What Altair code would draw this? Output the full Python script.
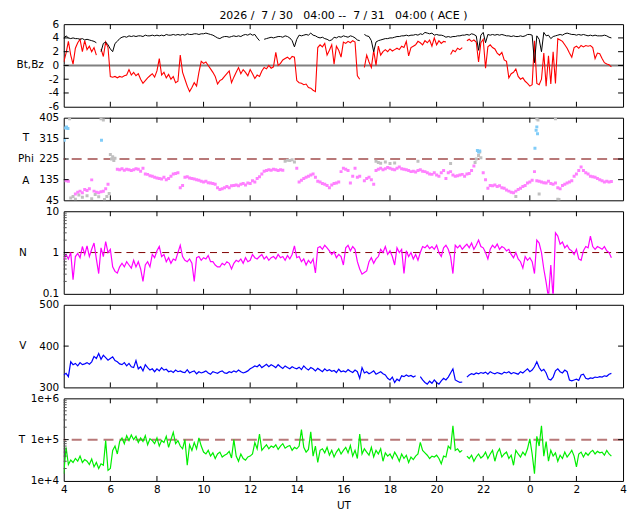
import altair as alt
import pandas as pd

# ---------------- data (0.1 h steps from 04:00) ----------------
N_PTS = 236
hours = [round(4 + 0.1 * i, 1) for i in range(N_PTS)]

bz = [
    0.5, 1.8, 3.5, 1.5, 0.2, 2.5, 3.3, 3.8, 2.0, 3.6,
    2.3, 2.8, 2.0, 2.6, 1.5, None, 2.4, 1.3, 3.4, 2.6,
    -1.6, -1.7, -1.6, -1.8, -1.6, -1.7, -1.5, -1.4, -0.6, -1.4,
    -1.0, -1.5, -1.2, -2.0, -2.6, -2.2, -1.8, -1.5, -1.2, -1.7,
    -0.8, 1.0, -1.4, -1.0, -1.8, -1.3, -2.0, -1.6, -2.5, -2.3,
    1.5, -1.0, -2.0, -3.0, -3.8, -3.2, -2.5, -3.0, -1.0, 0.6,
    0.3, 0.5, 0.0, -0.5, -1.0, -1.6, -2.7, -2.2, -2.0, -1.6,
    -1.2, -0.8, -2.5, -1.7, -1.0, -0.3, -1.2, -0.6, -1.0, -1.5,
    -0.6, -1.2, -1.9, -1.4, -1.6, -0.8, -0.3, -0.5, 0.0, -0.4,
    -0.2, 1.9, 0.0, 0.3, 0.8, 1.0, 1.2, 0.9, 1.3, 1.2,
    -2.2, -2.5, -2.6, -2.8, -2.7, -3.2, -3.3, -3.6, -3.8, 2.6,
    3.0, 2.7, 3.2, 1.5, 2.2, 3.0, 0.2, 2.8, 2.2, 1.2,
    3.4, 3.2, 3.5, 3.3, 3.6, 3.4, -1.5, -2.0, None, -0.3,
    1.5, 0.5, -0.3, 2.2, 0.0, 2.8, 1.5, 2.0, 2.3, 2.0,
    2.4, 2.1, 2.3, 2.5, 2.3, 2.8, 2.6, 3.5, 1.4, 2.6,
    2.8, 3.0, 3.5, 3.3, 3.0, 3.6, 3.3, 3.7, 2.8, 4.0,
    3.0, 3.6, 3.2, 3.5, 3.4, None, 1.6, 2.2, 2.0, 2.5,
    2.3, 2.6, None, 3.6, 3.8, 3.5, 3.7, 3.4, 0.5, 3.3,
    3.8, -0.4, 2.7, 3.0, 2.6, 2.4, 1.8, 1.5, 1.9, 0.8,
    0.6, -1.8, -1.2, -1.0, -0.5, -1.6, -2.0, -1.8, -2.3, -2.6,
    -3.0, -2.8, 3.6, -2.6, -2.8, -2.0, 1.8, -3.0, 1.4, -2.7,
    2.0, -2.6, 3.9, 3.7, 3.5, 3.0, 2.5, 1.8, 1.2, 2.6,
    2.8, 2.5, 2.9, 2.7, 2.9, 2.8, 2.9, 2.6, 1.0, 1.8,
    1.7, 1.0, 0.4, 0.2, 0.1, -0.2,
]

bt = [
    3.9, 4.3, 4.0, 3.9, 4.0, 3.9, 3.9, 3.8, 3.9, 3.7,
    3.8, 3.7, 3.6, 3.5, 3.3, None, 2.0, 3.2, 3.4, 3.0,
    2.4, 2.0, 3.2, 3.5, 3.9, 4.1, 4.2, 4.1, 4.3, 4.2,
    4.3, 4.2, 4.3, 4.3, 4.2, 4.4, 4.3, 4.3, 4.4, 4.3,
    4.4, 4.3, 4.4, 4.3, 4.5, 4.4, 4.4, 4.5, 4.4, 4.5,
    4.4, 4.5, 4.4, 4.6, 4.5, 4.5, 4.6, 4.6, 4.5, 4.6,
    4.6, 4.7, 4.6, 4.5, 4.4, 4.2, 4.0, 3.9, 4.1, 4.2,
    4.2, 4.1, 4.2, 4.3, 4.2, 4.3, 4.2, 4.4, 4.5, 4.4,
    4.6, 4.4, 4.5, 4.0, 3.6, None, 3.8, 3.9, 4.0, 4.1,
    4.0, 4.1, 4.2, 4.2, 4.1, 4.3, 4.2, 4.0, 3.6, 2.7,
    3.8, 4.4, 4.3, 4.4, 4.5, 4.4, 4.7, 4.4, 4.3, 4.1,
    4.0, 4.1, 3.9, 3.8, 3.6, 3.7, 4.1, 4.0, 4.2, 4.1,
    4.3, 4.2, 4.1, 4.3, 4.2, 4.0, 3.7, 3.6, None, 4.5,
    4.3, 4.2, 3.6, 2.0, 3.4, 3.6, 3.7, 3.8, 3.9, 3.9,
    4.0, 4.0, 4.1, 4.2, 4.2, 4.3, 4.3, 4.4, 4.3, 4.4,
    4.4, 4.5, 4.4, 4.6, 4.5, 4.8, 4.7, 4.6, 4.7, 4.4,
    4.5, 4.4, 4.4, 4.3, 4.1, 4.2, 4.1, 4.2, 4.2, 4.3,
    4.3, 4.4, 4.4, 4.5, 4.4, 4.6, 4.5, 4.3, 2.2, 4.4,
    4.8, 3.3, 4.5, 4.4, 4.5, 4.4, 4.5, 4.4, 4.5, 4.4,
    4.3, 4.3, 4.2, 4.3, 4.2, 4.2, 4.3, 4.2, 4.3, 4.5,
    4.5, 4.4, 0.4, 4.3, 3.8, 2.0, 4.8, 4.3, 4.4, 3.9,
    4.2, 4.3, 4.4, 4.5, 4.4, 4.6, 4.7, 4.6, 4.5, 4.5,
    4.4, 4.5, 4.4, 4.5, 4.4, 4.3, 4.4, 4.3, 4.4, 4.3,
    4.3, 4.3, 4.4, 4.3, 4.1, 4.0,
]

phi = [
    None, 130, 128, None, None, 72, 80, 85, 78, 92,
    88, 95, 134, 85, 80, 78, 82, 84, 95, 115,
    None, None, None, 180, 178, 182, 176, 180, 178, 175,
    178, 182, 180, 172, 185, 160, 158, 152, 150, 145,
    142, 140, 138, 145, 135, 140, 150, 160, 162, 165,
    100, 110, 145, 148, 142, 140, 138, 135, 132, 128,
    125, 128, 122, 120, 118, 115, 100, 92, 95, 100,
    105, 100, 108, 110, 112, 108, 115, 118, 112, 120,
    118, 130, 125, 140, 148, 160, 172, 175, 178, 176,
    180, 178, 175, 178, 176, None, None, None, None, None,
    185, 125, 132, 140, 145, 150, 155, 160, 145, 128,
    125, 118, 115, 110, 100, 112, 118, 120, 125, 170,
    185, 180, 175, 120, 150, 185, 145, 150, None, 130,
    140, 145, 135, 115, 175, 180, 185, 178, 182, 188,
    185, 180, 178, 185, 190, 182, 180, 178, 175, 170,
    172, 168, 175, 178, 172, 170, 165, 160, 158, 165,
    155, 150, 165, 175, 140, 165, 170, 155, 150, 152,
    155, 158, 150, 160, 162, 175, 195, None, None, None,
    165, 135, 98, 110, 108, 112, 105, 108, 100, 98,
    90, 85, 80, 78, 85, 92, 98, 105, 110, 120,
    125, 132, 170, 130, 128, 125, 122, 120, 128, 118,
    115, 120, 100, 95, 110, 115, 120, 125, 130, 150,
    160, 175, 190, 175, 165, 160, 150, 148, 145, 140,
    135, 130, 125, 128, 125, 127,
]

phi_gray_t = [4.25, 4.3, 4.4, 4.5, 4.65, 4.8, 5.0, 5.2, 5.35, 5.5, 5.6, 5.7, 5.75,
              5.85, 5.95, 6.0, 6.05, 6.1, 6.15, 6.2, 13.5, 13.6, 13.7, 13.8, 13.9,
              17.4, 17.5, 17.6, 17.8, 18.0, 18.2, 19.2, 20.6, 21.65, 21.7, 21.8,
              21.85, 21.9, 23.4, 24.3, 24.35, 24.4, 25.1, 25.2, 25.25]
phi_gray_v = [400, 55, 62, 50, 68, 58, 65, 52, 70, 60, 400, 395, 48,
              62, 75, 245, 225, 235, 218, 228, 215, 220, 218, 222, 212,
              215, 210, 206, 212, 205, 208, 215, 205, 210, 225, 240,
              255, 230, 62, 400, 395, 72, 400, 50, 48]

phi_blue_t = [4.02, 4.08, 4.12, 4.18, 5.62, 21.75, 21.8, 21.85, 24.22, 24.27, 24.3, 24.33]
phi_blue_v = [307, 360, 365, 358, 307, 262, 256, 260, 272, 350, 365, 335]

dens = [
    0.66, 0.9, 0.7, 1.0, 0.22, 0.8, 0.95, 0.75, 1.4, 0.9,
    1.45, 0.8, 1.2, 1.7, 0.7, 0.31, 1.3, 0.8, 1.85, 1.0,
    1.2, 0.45, 0.35, 0.32, 0.45, 0.55, 0.45, 0.6, 0.5, 0.42,
    0.65, 0.45, 0.6, 0.4, 0.2, 0.5, 0.6, 0.45, 0.9, 0.75,
    1.1, 1.4, 0.8, 0.9, 0.6, 0.75, 0.55, 0.7, 0.65, 1.0,
    1.5, 0.8, 0.65, 0.6, 0.7, 0.55, 0.2, 0.75, 0.8, 0.65,
    0.75, 0.7, 0.85, 0.6, 0.6, 0.5, 0.45, 0.45, 0.55, 0.5,
    0.6, 0.55, 0.4, 0.55, 0.65, 0.6, 0.7, 0.55, 0.75, 0.6,
    0.65, 0.9, 0.75, 0.7, 0.8, 0.9, 0.7, 0.8, 0.65, 0.75,
    0.8, 0.7, 0.9, 0.75, 0.8, 0.65, 0.85, 0.7, 0.9, 1.45,
    0.75, 0.8, 0.6, 0.7, 0.5, 0.65, 0.55, 0.7, 0.32, 1.3,
    1.4, 1.2, 1.5, 1.3, 1.1, 0.9, 1.05, 0.75, 0.9, 0.8,
    0.5, 1.3, 1.5, 1.1, 1.4, 1.2, 0.6, 0.4, 0.3, 0.33,
    0.36, 0.6, 0.75, 0.55, 0.7, 0.8, 1.2, 1.0, 1.4, 0.9,
    1.1, 0.8, 0.5, 1.3, 1.0, 1.2, 0.31, 1.1, 0.8, 1.0,
    0.7, 0.9, 0.65, 1.0, 1.4, 1.3, 1.5, 1.25, 1.4, 1.2,
    1.5, 1.0, 0.8, 1.3, 1.5, 1.2, 0.8, 0.31, 1.5, 1.3,
    1.5, 1.2, 1.4, 1.6, 1.3, 1.7, 1.2, 1.5, 2.0, 1.4,
    1.3, 1.0, 0.7, 1.2, 1.5, 1.3, 1.6, 1.2, 1.4, 1.3,
    1.1, 1.2, 0.9, 0.75, 1.0, 0.7, 0.6, 0.42, 0.8, 0.65,
    0.75, 0.6, 0.31, 2.0, 1.7, 1.0, 0.4, 0.19, 0.08, 0.5,
    0.08, 3.0, 2.5, 1.6, 1.8, 1.3, 1.5, 1.2, 1.1, 0.9,
    1.2, 0.7, 0.65, 1.1, 1.4, 1.3, 2.5, 1.4, 1.2, 1.4,
    1.3, 1.2, 1.4, 1.1, 1.0, 0.75,
]

vel = [
    330, 334, 326, 362, 355, 358, 352, 360, 355, 357,
    360, 356, 362, 375, 370, 382, 368, 378, 372, 366,
    370, 374, 365, 362, 357, 355, 360, 352, 358, 350,
    348, 365, 345, 350, 340, 355, 348, 342, 345, 338,
    345, 340, 348, 342, 344, 338, 340, 336, 342, 338,
    340, 337, 336, 343, 335, 338, 340, 333, 338, 335,
    337, 340, 335, 332, 338, 336, 334, 338, 340, 335,
    334, 338, 336, 340, 337, 342, 338, 335, 337, 340,
    345, 348, 352, 350, 355, 348, 352, 356, 350, 355,
    352, 348, 355, 350, 346, 352, 348, 345, 350, 347,
    345, 349, 343, 352, 346, 342, 348, 345, 340, 346,
    342, 338, 345, 340, 343, 339, 341, 336, 344, 338,
    340, 337, 343, 339, 336, 342, 338, 322, 348, 335,
    338, 333, 336, 340, 332, 335, 338, 333, 330, 322,
    318, 325, 312, 320, 316, 328, 326, 330, 327, 329,
    325, 328, None, 326, 318, 312, 308, 315, 310, 318,
    312, 308, 316, 322, 318, 325, 335, 345, 318, 315,
    312, 313, None, 325, 330, 333, 331, 335, 333, 336,
    334, 337, 332, 338, 335, 333, 336, 334, 332, 337,
    335, 338, 333, 336, 334, 332, 338, 335, 340, 345,
    338, 342, 350, 362, 348, 340, 344, 335, 320, 318,
    325, 340, 345, 338, 335, 342, 338, 318, 316, 318,
    320, 317, 330, 332, 322, 320, 323, 322, 325, 324,
    326, 325, 328, 327, 332, 334,
]

temp_thousand_k = [
    15, 65, 25, 32, 28, 35, 30, 40, 28, 33,
    30, 25, 34, 22, 28, 20, 26, 24, 95, 18,
    20, 55, 70, 45, 90, 110, 80, 125, 95, 130,
    100, 120, 85, 110, 90, 125, 75, 105, 95, 80,
    110, 70, 95, 85, 120, 65, 100, 150, 80, 95,
    70, 60, 100, 24, 75, 55, 85, 60, 110, 70,
    50, 45, 55, 40, 48, 35, 45, 50, 38, 42,
    45, 52, 36, 100, 40, 30, 45, 35, 32, 38,
    40, 45, 85, 60, 137, 55, 65, 75, 60, 70,
    65, 75, 58, 70, 80, 62, 68, 72, 55, 65,
    60, 70, 175, 65, 50, 58, 155, 40, 70, 28,
    55, 60, 48, 65, 42, 55, 38, 50, 60, 45,
    55, 65, 48, 72, 40, 55, 35, 137, 45, 60,
    50, 42, 65, 38, 55, 45, 60, 30, 48, 40,
    45, 35, 50, 40, 30, 45, 35, 42, 28, 38,
    33, 40, 45, 86, 55, 48, 42, 35, 40, 38,
    42, 35, 26, 40, 38, 70, 60, 217, 55, 60,
    50, 55, None, 40, 35, 42, 30, 38, 45, 36,
    40, 50, 35, 45, 55, 30, 48, 60, 38, 45,
    50, 35, 42, 24, 55, 45, 38, 50, 42, 60,
    104, 45, 15, 120, 70, 217, 40, 90, 30, 55,
    40, 48, 30, 42, 35, 50, 38, 45, 55, 40,
    22, 45, 50, 38, 48, 42, 50, 55, 45, 52,
    48, 50, 42, 55, 45, 40,
]
temp = [None if v is None else v * 1000 for v in temp_thousand_k]

x_tick_hours = [6, 8, 10, 12, 14, 16, 18, 20, 22, 24, 26]
x_label_hours = [4, 6, 8, 10, 12, 14, 16, 18, 20, 22, 24, 26, 28]

title_text = "2026 /\u00a0 7 / 30 \u00a0\u00a004:00 -- \u00a07 / 31 \u00a0\u00a004:00 ( ACE )"

# ---------------- styling ----------------
W, H = 562, 83
FONT = "DejaVu Sans"
FS = 10.5
TICK = 5
xscale = alt.Scale(domain=[4, 28], nice=False, zero=False)


def seg_frame(values):
    rows, seg = [], 0
    for h, v in zip(hours, values):
        if v is None:
            seg += 1
            continue
        rows.append({"h": h, "v": v, "seg": seg})
    return pd.DataFrame(rows)


def y_axis(vals, expr):
    return alt.Axis(values=vals, labelExpr=expr, ticks=False, domain=False, grid=False,
                    labelPadding=5, title=None, labelOverlap=False, labelFont=FONT,
                    labelFontSize=FS, labelColor="black")


class Panel:
    def __init__(self, ys, yax, xax=None):
        self.ys, self.yax, self.xax = ys, yax, xax

    def X(self):
        return alt.X("h:Q", scale=xscale, axis=self.xax)

    def Y(self):
        return alt.Y("v:Q", scale=self.ys, axis=self.yax)

    def line(self, values, color, width=1.0):
        return alt.Chart(seg_frame(values)).mark_line(
            color=color, strokeWidth=width, clip=True).encode(
            x=self.X(), y=self.Y(), detail="seg:N")

    def pts(self, df, color):
        return alt.Chart(df).mark_square(color=color, size=9, opacity=1, clip=True).encode(
            x=self.X(), y=self.Y())

    def hline(self, val, color, width, dash=None):
        kw = dict(color=color, strokeWidth=width)
        if dash:
            kw["strokeDash"] = dash
        return alt.Chart(pd.DataFrame({"v": [val]})).mark_rule(**kw).encode(y=self.Y())

    def ticks(self, major, minor=None):
        tx = pd.DataFrame({"h": x_tick_hours})
        ty = pd.DataFrame({"v": major})
        rs = dict(color="black", strokeWidth=1)
        layers = [
            alt.Chart(tx).mark_rule(**rs).encode(x=self.X(), y=alt.value(0), y2=alt.value(TICK)),
            alt.Chart(tx).mark_rule(**rs).encode(x=self.X(), y=alt.value(H - TICK), y2=alt.value(H)),
            alt.Chart(ty).mark_rule(**rs).encode(y=self.Y(), x=alt.value(0), x2=alt.value(TICK)),
            alt.Chart(ty).mark_rule(**rs).encode(y=self.Y(), x=alt.value(W - TICK), x2=alt.value(W)),
        ]
        if minor:
            tm = pd.DataFrame({"v": minor})
            layers.append(alt.Chart(tm).mark_rule(color="#555555", strokeWidth=1).encode(
                y=self.Y(), x=alt.value(0), x2=alt.value(3)))
        return layers

    def labels(self, texts, vals, xpos, align="center"):
        return alt.Chart(pd.DataFrame({"t": texts, "v": vals})).mark_text(
            font=FONT, fontSize=FS, color="black", align=align, baseline="middle").encode(
            x=alt.value(xpos), y=self.Y(), text="t:N")


# ---------------- panel 1: Bt, Bz ----------------
P1 = Panel(alt.Scale(domain=[-6, 6], nice=False, zero=False),
           y_axis([-6, -4, -2, 0, 2, 4, 6], "'' + datum.value"))
p1 = alt.layer(
    P1.hline(0, "#808080", 2),
    P1.line(bz, "#ff0000", 1.1),
    P1.line(bt, "#000000"),
    *P1.ticks([-4, -2, 0, 2, 4]),
    P1.labels(["Bt,Bz"], [0], -20, align="right"),
    alt.Chart(pd.DataFrame({"t": [title_text]})).mark_text(
        font=FONT, fontSize=11, color="black", align="center", baseline="middle").encode(
        x=alt.value(W / 2), y=alt.value(-8), text="t:N"),
).properties(width=W, height=H)

# ---------------- panel 2: Phi ----------------
P2 = Panel(alt.Scale(domain=[45, 405], nice=False, zero=False),
           y_axis([45, 135, 225, 315, 405], "'' + datum.value"))
phi_df = seg_frame(phi)
gray_df = pd.DataFrame({"h": phi_gray_t, "v": phi_gray_v})
blue_df = pd.DataFrame({"h": phi_blue_t, "v": phi_blue_v})
p2 = alt.layer(
    P2.hline(225, "#b87878", 2, [10, 6]),
    P2.pts(phi_df, "#ff80ff"),
    P2.pts(gray_df, "#c0c0c0"),
    P2.pts(blue_df, "#80ccf8"),
    *P2.ticks([135, 225, 315]),
    P2.labels(["T", "Phi", "A"], [315, 225, 128], -38),
).properties(width=W, height=H)

# ---------------- panel 3: N ----------------
P3 = Panel(alt.Scale(type="log", domain=[0.1, 10], nice=False),
           y_axis([0.1, 1, 10], "datum.value < 1 ? '0.1' : '' + datum.value"))
minor3 = [0.2, 0.3, 0.4, 0.5, 0.6, 0.7, 0.8, 0.9, 2, 3, 4, 5, 6, 7, 8, 9]
p3 = alt.layer(
    P3.hline(1, "#800000", 1, [7, 5]),
    P3.line(dens, "#ff00ff", 1.2),
    *P3.ticks([1], minor3),
    P3.labels(["N"], [1], -41),
).properties(width=W, height=H)

# ---------------- panel 4: V ----------------
P4 = Panel(alt.Scale(domain=[300, 500], nice=False, zero=False),
           y_axis([300, 400, 500], "'' + datum.value"))
p4 = alt.layer(
    P4.line(vel, "#0000ff", 1.2),
    *P4.ticks([400]),
    P4.labels(["V"], [400], -41),
).properties(width=W, height=H)

# ---------------- panel 5: T ----------------
xaxis5 = alt.Axis(values=x_label_hours, labelExpr="'' + (datum.value % 24)", ticks=False,
                  domain=False, grid=False, labelFlush=False, labelOverlap=False,
                  labelPadding=4, labelFont=FONT, labelFontSize=FS, labelColor="black",
                  title="UT", titleFont=FONT, titleFontSize=FS, titleFontWeight="normal",
                  titleColor="black", titlePadding=5)
P5 = Panel(alt.Scale(type="log", domain=[1e4, 1e6], nice=False),
           y_axis([1e4, 1e5, 1e6], "'1e+' + round(log(datum.value) / LN10)"), xaxis5)
minor5 = [2e4, 3e4, 4e4, 5e4, 6e4, 7e4, 8e4, 9e4, 2e5, 3e5, 4e5, 5e5, 6e5, 7e5, 8e5, 9e5]
p5 = alt.layer(
    P5.hline(1e5, "#b87878", 2, [10, 6]),
    P5.line(temp, "#00ee00", 1.2),
    *P5.ticks([1e5], minor5),
    P5.labels(["T"], [1e5], -42),
).properties(width=W, height=H)

chart = alt.vconcat(p1, p2, p3, p4, p5, spacing=11, bounds="flush").properties(
    padding={"left": 8, "top": 0, "right": 5, "bottom": 5}
).configure_view(stroke="black", strokeWidth=1)

chart.save("out.html", embed_options={"renderer": "svg", "actions": False})
